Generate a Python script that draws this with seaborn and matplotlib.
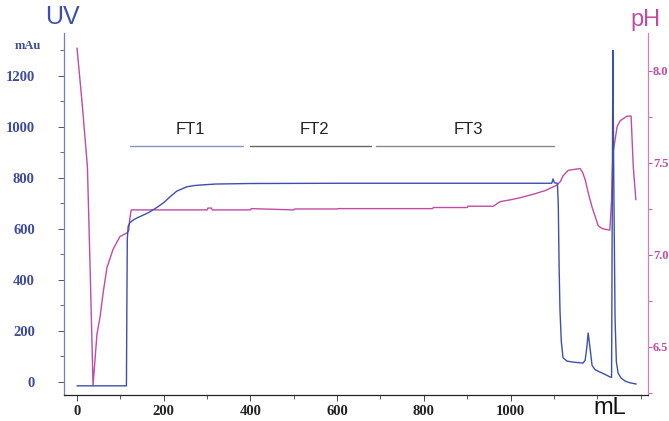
import matplotlib
matplotlib.use("Agg")
import matplotlib.pyplot as plt
import seaborn as sns
import pandas as pd
from matplotlib.ticker import MultipleLocator, FixedLocator

# ---- data ----
uv_ml = [0, 114, 115, 116, 118, 122, 130, 138, 150, 165, 184, 200, 214, 230, 253, 270, 284,
         320, 400, 600, 800, 1000, 1095, 1098, 1101, 1108, 1110, 1112, 1114, 1117, 1121, 1130,
         1144, 1167, 1172, 1176, 1179, 1183, 1188, 1195, 1206, 1220, 1229, 1233, 1236, 1238,
         1241, 1244, 1248, 1255, 1265, 1275, 1290]
uv_mau = [-15, -15, 300, 560, 610, 625, 635, 643, 652, 664, 684, 703, 725, 748, 765, 770, 772,
          776, 778, 779, 779, 779, 779, 796, 781, 779, 700, 450, 280, 160, 95, 82,
          78, 74, 85, 137, 192, 137, 65, 48, 39, 28, 20, 18, 1300, 800,
          250, 80, 35, 15, 3, -3, -8]

ph_ml = [0, 12, 24, 30, 37, 46, 53, 60, 69, 83, 99, 115, 119, 122, 125, 200, 300, 302, 310, 312,
         400, 402, 500, 502, 600, 602, 700, 820, 822, 900, 902, 960, 976, 1000, 1020, 1052,
         1080, 1107, 1115, 1121, 1133, 1160, 1166, 1172, 1180, 1188, 1202, 1210, 1218, 1229,
         1233, 1236, 1246, 1253, 1269, 1278, 1283, 1289]
ph_val = [8.125, 7.82, 7.48, 6.95, 6.29, 6.57, 6.66, 6.79, 6.93, 7.03, 7.10, 7.12, 7.13, 7.20,
          7.245, 7.245, 7.245, 7.255, 7.255, 7.245, 7.245, 7.252, 7.245, 7.25, 7.25, 7.252,
          7.252, 7.252, 7.258, 7.258, 7.265, 7.265, 7.29, 7.30, 7.31, 7.33, 7.35, 7.38, 7.40,
          7.43, 7.46, 7.47, 7.45, 7.41, 7.33, 7.26, 7.16, 7.145, 7.14, 7.135, 7.30, 7.55, 7.70,
          7.73, 7.755, 7.755, 7.48, 7.30]

ft_labels = ["FT1", "FT2", "FT3"]
ft_start = [122, 399, 690]
ft_end = [383, 678, 1100]
ft_colors = ["#8a90c8", "#666666", "#888888"]

x_major = [0, 200, 400, 600, 800, 1000]
uv_major = [0, 200, 400, 600, 800, 1000, 1200]
ph_major = [6.5, 7.0, 7.5, 8.0]
ph_labels = ["6.5", "7.0", "7.5", "8.0"]

BLUE = "#3d4fae"
PINK = "#c24aa3"
LBLUE = "#3f4c9c"

sns.set_style("ticks")
plt.rcParams['font.family'] = ['Liberation Sans', 'DejaVu Sans']

fig = plt.figure(figsize=(6.69, 4.21), dpi=100)
ax = fig.add_axes([64/669, 1-395/421, (648-64)/669, (395-33)/421])
ax2 = ax.twinx()

uv_df = pd.DataFrame({"ml": uv_ml, "mau": uv_mau})
ph_df = pd.DataFrame({"ml": ph_ml, "ph": ph_val})

sns.lineplot(data=uv_df, x="ml", y="mau", ax=ax, color=BLUE, linewidth=1.0, sort=False,
             estimator=None)
sns.lineplot(data=ph_df, x="ml", y="ph", ax=ax2, color=PINK, linewidth=1.0, sort=False,
             estimator=None)
ax.set_zorder(2)
ax.patch.set_visible(False)

ax.set_xlim(-30, 1317)
ax.set_ylim(-51, 1368)
ax2.set_ylim(6.239, 8.2065)

ax.set_xlabel("")
ax.set_ylabel("")
ax2.set_ylabel("")

serif = ['Liberation Serif', 'DejaVu Serif']
ax.xaxis.set_major_locator(FixedLocator(x_major))
ax.xaxis.set_minor_locator(MultipleLocator(100))
ax.set_xticklabels([str(v) for v in x_major], family=serif, fontsize=10.5, fontweight='bold',
                   color="#222222")
ax.yaxis.set_major_locator(FixedLocator(uv_major))
ax.yaxis.set_minor_locator(MultipleLocator(100))
ax.set_yticklabels([str(v) for v in uv_major], family=serif, fontsize=10.5, fontweight='bold',
                   color=LBLUE)
ax2.yaxis.set_major_locator(FixedLocator(ph_major))
ax2.yaxis.set_minor_locator(MultipleLocator(0.25))
ax2.set_yticklabels(ph_labels, family=serif, fontsize=9, fontweight='bold', color=PINK)

for a in (ax, ax2):
    a.spines['top'].set_visible(False)
ax.spines['right'].set_visible(False)
ax2.spines['left'].set_visible(False)
ax2.spines['bottom'].set_visible(False)
ax.spines['left'].set_color("#6f7fc4")
ax.spines['bottom'].set_color("#222222")
ax2.spines['right'].set_color("#d27fc0")
for s in ax.spines.values():
    s.set_linewidth(0.9)
ax2.spines['right'].set_linewidth(0.9)

ax.tick_params(axis='x', which='major', length=4, width=0.7, color="#444444", pad=3)
ax.tick_params(axis='x', which='minor', length=3, width=0.6, color="#444444")
ax.tick_params(axis='y', which='major', length=4, width=0.7, color="#555555", pad=17)
ax.tick_params(axis='y', which='minor', length=3, width=0.6, color="#555555")
ax2.tick_params(axis='y', which='major', length=3, width=0.7, color=PINK, pad=0.5)
ax2.tick_params(axis='y', which='minor', length=3, width=0.6, color=PINK)

for lab, s, e, c in zip(ft_labels, ft_start, ft_end, ft_colors):
    ax.plot([s, e], [927, 927], color=c, linewidth=1.0)
    ax.text((s + e) / 2 + 8, 960, lab, ha='center', va='bottom', fontsize=12, color="#222222")

fig.text(62/669, 1-17/421, "UV", ha='center', va='center', fontsize=18, color=BLUE)
fig.text(645/669, 1-20/421, "pH", ha='center', va='center', fontsize=17, color=PINK)
fig.text(610/669, 1-408/421, "mL", ha='center', va='center', fontsize=17, color="#111111")
fig.text(28/669, 1-46/421, "mAu", ha='center', va='center', fontsize=9, fontweight='bold',
         family=serif, color=LBLUE)

fig.savefig("out.png", dpi=100)
